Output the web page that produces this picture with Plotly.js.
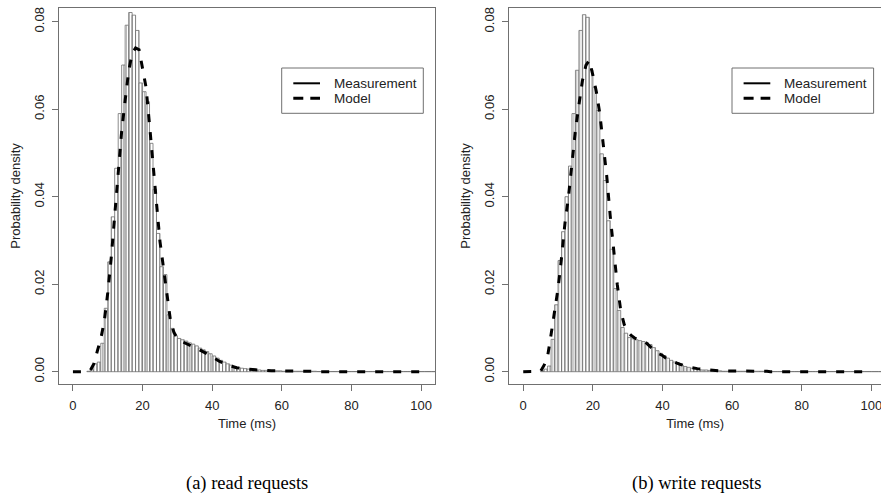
<!DOCTYPE html>
<html>
<head>
<meta charset="utf-8">
<script src="https://cdn.plot.ly/plotly-3.0.1.min.js"></script>
<style>
  html, body { margin: 0; padding: 0; background: #fff; }
  #chart { width: 881px; height: 501px; }
</style>
</head>
<body>
<div id="chart"></div>
<script>
// Histogram bins are 1 ms wide; the first bin of each series starts here.
const readFirstBin = 4;
const writeFirstBin = 5;

// Measured probability density per 1 ms bin, read requests.
const readDensity = [
  0.0001, 0.0004, 0.0018, 0.0022, 0.0065, 0.0145, 0.0251, 0.0354, 0.0465, 0.0590,
  0.0701, 0.0792, 0.0821, 0.0815, 0.0780, 0.0660, 0.0640, 0.0617, 0.0522, 0.0417,
  0.0316, 0.0240, 0.0222, 0.0130, 0.0099, 0.0082, 0.0076, 0.0073, 0.0070, 0.0066,
  0.0063, 0.0059, 0.0054, 0.0050, 0.0046, 0.0041, 0.0036, 0.0031, 0.0026, 0.0022,
  0.0018, 0.0015, 0.0012, 0.0010, 0.0008, 0.0007, 0.0006, 0.0005, 0.0004, 0.0004,
  0.0003, 0.0003, 0.0002, 0.0002, 0.0002, 0.0002, 0.0001, 0.0001, 0.0001, 0.0001,
  0.0001, 0.0001, 0.0001, 0.0001, 0.0001, 0.0001, 0.00005, 0.00005, 0.00005, 0.00005,
  0.00005, 0.00005, 0.00005, 0.00005, 0.00005, 0.00005, 0.00005, 0.00005, 0.00005, 0.00005,
  0.00005, 0.00005, 0.00005, 0.00005, 0.00005, 0.00005, 0.00005, 0.00005, 0.00005, 0.00005,
  0.00005, 0.00005, 0.00005, 0.00005, 0.00005, 0.00005, 0.00005, 0.00005, 0.00005, 0.00005
];

// Measured probability density per 1 ms bin, write requests.
const writeDensity = [
  0.0002, 0.0006, 0.0013, 0.0074, 0.0153, 0.0254, 0.0320, 0.0400, 0.0470, 0.0590,
  0.0689, 0.0780, 0.0816, 0.0810, 0.0690, 0.0650, 0.0597, 0.0498, 0.0437, 0.0345,
  0.0280, 0.0190, 0.0140, 0.0101, 0.0088, 0.0078, 0.0075, 0.0073, 0.0071, 0.0069,
  0.0066, 0.0062, 0.0055, 0.0048, 0.0042, 0.0037, 0.0031, 0.0026, 0.0022, 0.0018,
  0.0015, 0.0012, 0.0010, 0.0008, 0.0007, 0.0005, 0.0004, 0.0004, 0.0003, 0.0002,
  0.0002, 0.0002, 0.0001, 0.0001, 0.0001, 0.0001, 0.0001, 0.0001, 0.0001, 0.0001,
  0.0001, 0.0001, 0.0001, 0.0001, 0.0001, 0.00005, 0.00005, 0.00005, 0.00005, 0.00005,
  0.00005, 0.00005, 0.00005, 0.00005, 0.00005, 0.00005, 0.00005, 0.00005, 0.00005, 0.00005,
  0.00005, 0.00005, 0.00005, 0.00005, 0.00005, 0.00005, 0.00005, 0.00005, 0.00005, 0.00005,
  0.00005, 0.00005, 0.00005, 0.00005, 0.00005, 0.00005, 0.00005, 0.00005
];

// Model density evaluated at every millisecond from 0 to 100 ms.
const readModel = [
  0, 0, 0, 0, 0, 0.0003, 0.0018, 0.0047, 0.0075, 0.0115,
  0.0180, 0.0260, 0.0360, 0.0450, 0.0550, 0.0620, 0.0686, 0.0728, 0.0740, 0.0736,
  0.0695, 0.0650, 0.0565, 0.0469, 0.0386, 0.0298, 0.0235, 0.0171, 0.0118, 0.0090,
  0.0076, 0.0070, 0.0066, 0.0062, 0.0059, 0.0056, 0.0052, 0.0048, 0.0043, 0.0038,
  0.0034, 0.0029, 0.0024, 0.0020, 0.0017, 0.0014, 0.0011, 0.0009, 0.0008, 0.0007,
  0.0006, 0.0005, 0.0005, 0.0004, 0.0004, 0.0003, 0.0003, 0.0002, 0.0002, 0.0002,
  0.0001, 0.0001, 0.0001, 0.0001, 0.0001, 0.0001, 0.0001, 0.0001, 0.0001, 0.0001,
  0.0001, 0, 0, 0, 0, 0, 0, 0, 0, 0,
  0, 0, 0, 0, 0, 0, 0, 0, 0, 0,
  0, 0, 0, 0, 0, 0, 0, 0, 0, 0,
  0
];

const writeModel = [
  0, 0, 0, 0, 0, 0.0001, 0.0015, 0.0035, 0.0085, 0.0135,
  0.0190, 0.0260, 0.0340, 0.0400, 0.0475, 0.0552, 0.0610, 0.0665, 0.0700, 0.0712,
  0.0678, 0.0640, 0.0590, 0.0520, 0.0446, 0.0355, 0.0277, 0.0200, 0.0140, 0.0108,
  0.0092, 0.0083, 0.0077, 0.0073, 0.0070, 0.0068, 0.0060, 0.0053, 0.0046, 0.0041,
  0.0037, 0.0031, 0.0027, 0.0023, 0.0020, 0.0017, 0.0014, 0.0012, 0.0010, 0.0008,
  0.0007, 0.0006, 0.0005, 0.0004, 0.0003, 0.0003, 0.0002, 0.0002, 0.0002, 0.0001,
  0.0001, 0.0001, 0.0001, 0.0001, 0.0001, 0.0001, 0.0001, 0.0001, 0.0001, 0.0001,
  0.0001, 0, 0, 0, 0, 0, 0, 0, 0, 0,
  0, 0, 0, 0, 0, 0, 0, 0, 0, 0,
  0, 0, 0, 0, 0, 0, 0, 0, 0, 0,
  0
];

const xTicks = [0, 20, 40, 60, 80, 100];
const yTicks = [0, 0.02, 0.04, 0.06, 0.08];
const yTickText = ['0.00', '0.02', '0.04', '0.06', '0.08'];
const legendLabels = ['Measurement', 'Model'];
const captions = ['(a) read requests', '(b) write requests'];
const axisTitleX = 'Time (ms)';
const axisTitleY = 'Probability density';

// Left edge of each 1 ms bin, and the millisecond grid the model is sampled on.
const binLefts = (first, n) => Array.from({ length: n }, (_, i) => first + i);
const modelTime = Array.from({ length: readModel.length }, (_, i) => i);

const SANS = '"Liberation Sans", Arial, sans-serif';
const SERIF = '"Liberation Serif", "Times New Roman", serif';
const LINE_GREY = '#707070';
const TEXT = { family: SANS, size: 13, color: '#222' };

function histTrace(lefts, dens, xa, ya) {
  return {
    type: 'bar', x: lefts, y: dens, width: 1, offset: 0,
    xaxis: xa, yaxis: ya, showlegend: false, hoverinfo: 'skip',
    marker: {
      color: 'white',
      line: { color: '#6e6e6e', width: 0.8 },
      pattern: { shape: '|', fgcolor: '#a0a0a0', bgcolor: 'white', fillmode: 'replace', size: 3, solidity: 0.25 }
    }
  };
}

function modelTrace(dens, xa, ya) {
  return {
    type: 'scatter', mode: 'lines', x: modelTime, y: dens,
    xaxis: xa, yaxis: ya, showlegend: false, hoverinfo: 'skip',
    line: { color: 'black', width: 3, dash: '8px,10px' }
  };
}

const data = [
  histTrace(binLefts(readFirstBin, readDensity.length), readDensity, 'x', 'y'),
  modelTrace(readModel, 'x', 'y'),
  histTrace(binLefts(writeFirstBin, writeDensity.length), writeDensity, 'x2', 'y2'),
  modelTrace(writeModel, 'x2', 'y2')
];

// Page geometry in pixels.
const W = 881, H = 501;
const M = { l: 59, r: 0, t: 8, b: 117 };
const plotW = W - M.l - M.r, plotH = H - M.t - M.b;
const px2x = px => (px - M.l) / plotW;
const px2y = py => (H - M.b - py) / plotH;

const panelLeft = [59, 509.3];
const leftDomain = [0, px2x(435)];
const rightDomain = [px2x(509.3), 1];

function xAxis(domain, range, anchor) {
  return {
    domain: domain, range: range, anchor: anchor,
    tickvals: xTicks, ticks: 'outside', ticklen: 6, tickwidth: 1, tickcolor: LINE_GREY,
    showline: true, linecolor: LINE_GREY, linewidth: 1, mirror: true,
    showgrid: false, zeroline: false, fixedrange: true,
    ticklabelstandoff: 3, ticklabeloverflow: 'allow',
    tickfont: TEXT,
    title: { text: axisTitleX, font: TEXT, standoff: 7 },
    automargin: false
  };
}

function yAxis(anchor, mirror) {
  return {
    anchor: anchor, domain: [0, 1], range: [-0.00281, 0.08313],
    tickvals: yTicks, ticktext: yTickText, tickangle: -90,
    ticks: 'outside', ticklen: 6, tickwidth: 1, tickcolor: LINE_GREY,
    showline: true, linecolor: LINE_GREY, linewidth: 1, mirror: mirror,
    showgrid: false, zeroline: false, fixedrange: true,
    ticklabelstandoff: 3,
    tickfont: TEXT,
    title: { text: axisTitleY, font: TEXT, standoff: 8 },
    automargin: false
  };
}

// Legend box drawn per panel: frame, a solid and a dashed sample, and the labels.
const shapes = [];
const annotations = [];
panelLeft.forEach(left => {
  const dx = left - 59;
  shapes.push({ type: 'rect', xref: 'paper', yref: 'paper',
    x0: px2x(281.7 + dx), x1: px2x(423.3 + dx), y0: px2y(113.3), y1: px2y(68),
    line: { color: LINE_GREY, width: 1 }, fillcolor: 'white' });
  shapes.push({ type: 'line', xref: 'paper', yref: 'paper',
    x0: px2x(293.3 + dx), x1: px2x(320 + dx), y0: px2y(83.3), y1: px2y(83.3),
    line: { color: 'black', width: 2 } });
  shapes.push({ type: 'line', xref: 'paper', yref: 'paper',
    x0: px2x(293.3 + dx), x1: px2x(320 + dx), y0: px2y(98.3), y1: px2y(98.3),
    line: { color: 'black', width: 3, dash: '10px,7px' } });
  [83.3, 98.3].forEach((py, i) => {
    annotations.push({ xref: 'paper', yref: 'paper', x: px2x(332 + dx), y: px2y(py),
      xanchor: 'left', yanchor: 'middle', showarrow: false, text: legendLabels[i],
      font: { family: SANS, size: 13.5, color: '#222' } });
  });
});

[247, 696].forEach((cx, i) => {
  annotations.push({ xref: 'paper', yref: 'paper', x: px2x(cx), y: px2y(483),
    xanchor: 'center', yanchor: 'middle', showarrow: false, text: captions[i],
    font: { family: SERIF, size: 18.5, color: '#000' } });
});

const layout = {
  width: W, height: H, margin: M,
  paper_bgcolor: 'white', plot_bgcolor: 'white',
  showlegend: false, bargap: 0, barmode: 'overlay',
  xaxis: xAxis(leftDomain, [-4, 104], 'y'),
  yaxis: yAxis('x', true),
  xaxis2: xAxis(rightDomain, [-4, -4 + 371.7 / (376 / 108)], 'y2'),
  yaxis2: yAxis('x2', false),
  shapes: shapes,
  annotations: annotations
};

Plotly.newPlot('chart', data, layout, { staticPlot: true, displayModeBar: false });
</script>
</body>
</html>
